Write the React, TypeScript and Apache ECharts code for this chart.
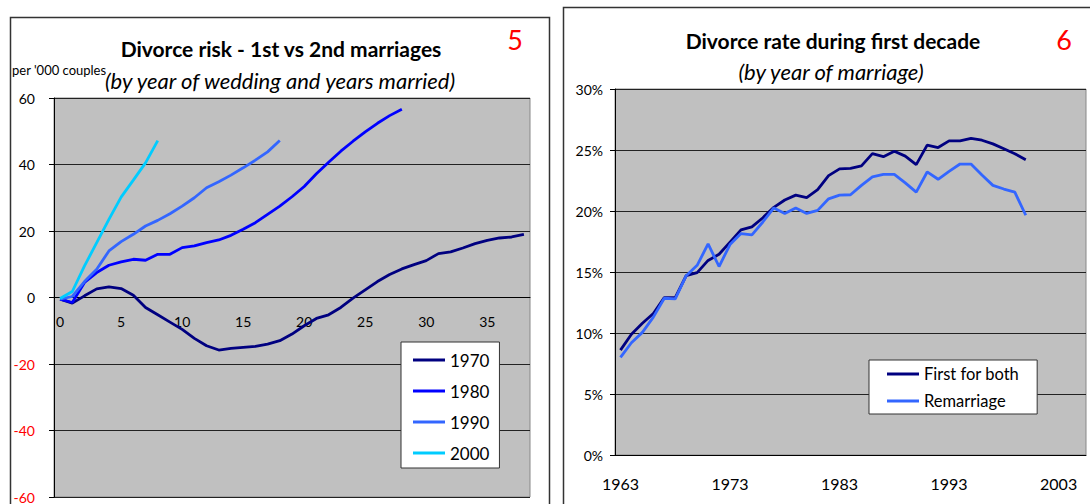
import React, { useEffect, useRef } from "react";
import * as echarts from "echarts";

const yearsMarried = ["0","1","2","3","4","5","6","7","8","9","10","11","12","13","14","15","16","17","18","19","20","21","22","23","24","25","26","27","28","29","30","31","32","33","34","35","36","37","38"];
const s1970 = [-0.5,-1.7,0.5,2.6,3.2,2.7,0.7,-3,-5.2,-7.4,-9.6,-12.3,-14.5,-15.8,-15.3,-15.0,-14.7,-14.0,-13.0,-11.0,-8.5,-6.3,-5.2,-3.0,-0.2,2.3,4.8,6.9,8.6,9.9,11.1,13.2,13.7,14.9,16.2,17.2,17.9,18.2,19.0];
const s1980 = [-0.5,-1.5,4.5,7.5,9.7,10.7,11.5,11.2,13.0,13.0,15.0,15.5,16.5,17.3,18.7,20.5,22.5,25.0,27.5,30.3,33.4,37.2,40.7,44.0,47.0,49.8,52.4,54.7,56.6];
const s1990 = [-0.5,0.3,4.8,8.5,14.0,16.8,19.0,21.5,23.2,25.2,27.5,30.0,33.0,34.8,36.8,39.0,41.3,43.8,47.2];
const s2000 = [-0.3,1.8,9.5,16.5,23.5,30.2,35.3,40.5,47.2];

const marriageYears = ["1963","1964","1965","1966","1967","1968","1969","1970","1971","1972","1973","1974","1975","1976","1977","1978","1979","1980","1981","1982","1983","1984","1985","1986","1987","1988","1989","1990","1991","1992","1993","1994","1995","1996","1997","1998","1999","2000","2001","2002","2003","2004","2005"];
const firstForBoth = [8.6,9.9,10.8,11.6,12.9,12.9,14.7,14.95,15.95,16.45,17.45,18.45,18.7,19.45,20.3,20.9,21.3,21.1,21.75,22.9,23.45,23.5,23.7,24.7,24.45,24.9,24.5,23.8,25.4,25.2,25.75,25.75,25.95,25.8,25.5,25.1,24.7,24.2];
const remarriage = [8.0,9.2,10.05,11.3,12.85,12.8,14.7,15.55,17.3,15.45,17.25,18.15,18.05,19.1,20.25,19.8,20.25,19.8,20.05,21.0,21.3,21.33,22.1,22.8,23.0,23.0,22.3,21.55,23.2,22.6,23.25,23.85,23.85,22.95,22.1,21.8,21.55,19.65];

const FONT = "Lato, 'Open Sans', sans-serif";

export default function App() {
  const ref = useRef<HTMLDivElement>(null);
  useEffect(() => {
    if (!ref.current) return;
    const chart = echarts.init(ref.current, null, { renderer: "svg" });
    const line = (name: string, data: number[], color: string, xi: number, width = 2.8) => ({
      type: "line",
      name,
      data,
      xAxisIndex: xi,
      yAxisIndex: xi,
      symbol: "none",
      color,
      lineStyle: { color, width },
      itemStyle: { color },
      z: 3,
    });
    chart.setOption({
      animation: false,
      textStyle: { fontFamily: FONT },
      grid: [
        { left: 54, top: 98, width: 476, height: 399, show: true, backgroundColor: "#C0C0C0", borderColor: "#888", borderWidth: 1, containLabel: false, outerBoundsMode: "none" },
        { left: 615, top: 89, width: 471, height: 366, show: true, backgroundColor: "#C0C0C0", borderColor: "#888", borderWidth: 1, containLabel: false, outerBoundsMode: "none" },
      ],
      xAxis: [
        {
          type: "category", gridIndex: 0, data: yearsMarried, boundaryGap: true,
          position: "bottom", offset: -199.5,
          axisLine: { onZero: false, lineStyle: { color: "#000", width: 1 } },
          axisTick: { interval: 0, length: 5, lineStyle: { color: "#000" } },
          axisLabel: { interval: 4, margin: 17, fontSize: 14, color: "#000", fontFamily: FONT },
        },
        {
          type: "category", gridIndex: 1, data: marriageYears, boundaryGap: true,
          axisLine: { lineStyle: { color: "#000", width: 1 } },
          axisTick: { interval: 4, length: 5, lineStyle: { color: "#000" } },
          axisLabel: { interval: 9, margin: 20, fontSize: 16, color: "#000", fontFamily: FONT },
        },
      ],
      yAxis: [
        {
          type: "value", gridIndex: 0, min: -60, max: 60, interval: 20,
          axisLine: { show: true, onZero: false, lineStyle: { color: "#000" } },
          axisTick: { show: true, length: 5, lineStyle: { color: "#000" } },
          splitLine: { lineStyle: { color: "#222", width: 1 } },
          axisLabel: { margin: 19, fontSize: 14, fontFamily: FONT, color: (v: any) => (Number(v) < 0 ? "#FF0000" : "#000") },
        },
        {
          type: "value", gridIndex: 1, min: 0, max: 30, interval: 5,
          axisLine: { show: true, lineStyle: { color: "#000" } },
          axisTick: { show: true, length: 5, lineStyle: { color: "#000" } },
          splitLine: { lineStyle: { color: "#222", width: 1 } },
          axisLabel: { margin: 12, fontSize: 14, color: "#000", fontFamily: FONT, formatter: "{value}%" },
        },
      ],
      legend: [
        {
          data: ["1970", "1980", "1990", "2000"], orient: "vertical", left: 401, top: 342,
          padding: [8, 10, 5, 12], itemGap: 11, itemWidth: 32, itemHeight: 3, icon: "rect",
          backgroundColor: "#fff", borderColor: "#333", borderWidth: 1, borderRadius: 0,
          textStyle: { fontSize: 17, lineHeight: 20, color: "#000", fontFamily: FONT },
        },
        {
          data: ["First for both", "Remarriage"], orient: "vertical", left: 869, top: 360,
          padding: [5, 18, 4, 18], itemGap: 9, itemWidth: 32, itemHeight: 3, icon: "rect",
          backgroundColor: "#fff", borderColor: "#333", borderWidth: 1, borderRadius: 0,
          textStyle: { fontSize: 16.5, lineHeight: 18, color: "#000", fontFamily: FONT },
        },
      ],
      series: [
        line("1970", s1970, "#000080", 0),
        line("1980", s1980, "#0000FF", 0),
        line("1990", s1990, "#3366FF", 0),
        line("2000", s2000, "#00CCFF", 0),
        line("First for both", firstForBoth, "#000080", 1),
        line("Remarriage", remarriage, "#3366FF", 1),
      ],
      graphic: [
        { type: "rect", shape: { x: 10.5, y: 17.5, width: 539, height: 500 }, style: { fill: "none", stroke: "#333", lineWidth: 1.5 }, z: -10 },
        { type: "rect", shape: { x: 563.5, y: 7.5, width: 540, height: 510 }, style: { fill: "none", stroke: "#333", lineWidth: 1.5 }, z: -10 },
        { type: "text", x: 281, y: 48, style: { text: "Divorce risk - 1st vs 2nd marriages", font: `bold 21px ${FONT}`, fill: "#000", textAlign: "center", textVerticalAlign: "middle" } },
        { type: "text", x: 280, y: 80, style: { text: "(by year of wedding and years married)", font: `italic 22px ${FONT}`, fill: "#000", textAlign: "center", textVerticalAlign: "middle" } },
        { type: "text", x: 12, y: 70, style: { text: "per '000 couples", font: `13px ${FONT}`, fill: "#000", textAlign: "left", textVerticalAlign: "middle" } },
        { type: "text", x: 515, y: 39, style: { text: "5", font: `27px ${FONT}`, fill: "#FF0000", textAlign: "center", textVerticalAlign: "middle" } },
        { type: "text", x: 833, y: 40, style: { text: "Divorce rate during first decade", font: `bold 21px ${FONT}`, fill: "#000", textAlign: "center", textVerticalAlign: "middle" } },
        { type: "text", x: 831, y: 71, style: { text: "(by year of marriage)", font: `italic 22px ${FONT}`, fill: "#000", textAlign: "center", textVerticalAlign: "middle" } },
        { type: "text", x: 1064, y: 39, style: { text: "6", font: `27px ${FONT}`, fill: "#FF0000", textAlign: "center", textVerticalAlign: "middle" } },
      ],
    });
    return () => chart.dispose();
  }, []);
  return <div ref={ref} style={{ position: "fixed", left: 0, top: 0, width: 1090, height: 504, background: "#fff" }} />;
}
